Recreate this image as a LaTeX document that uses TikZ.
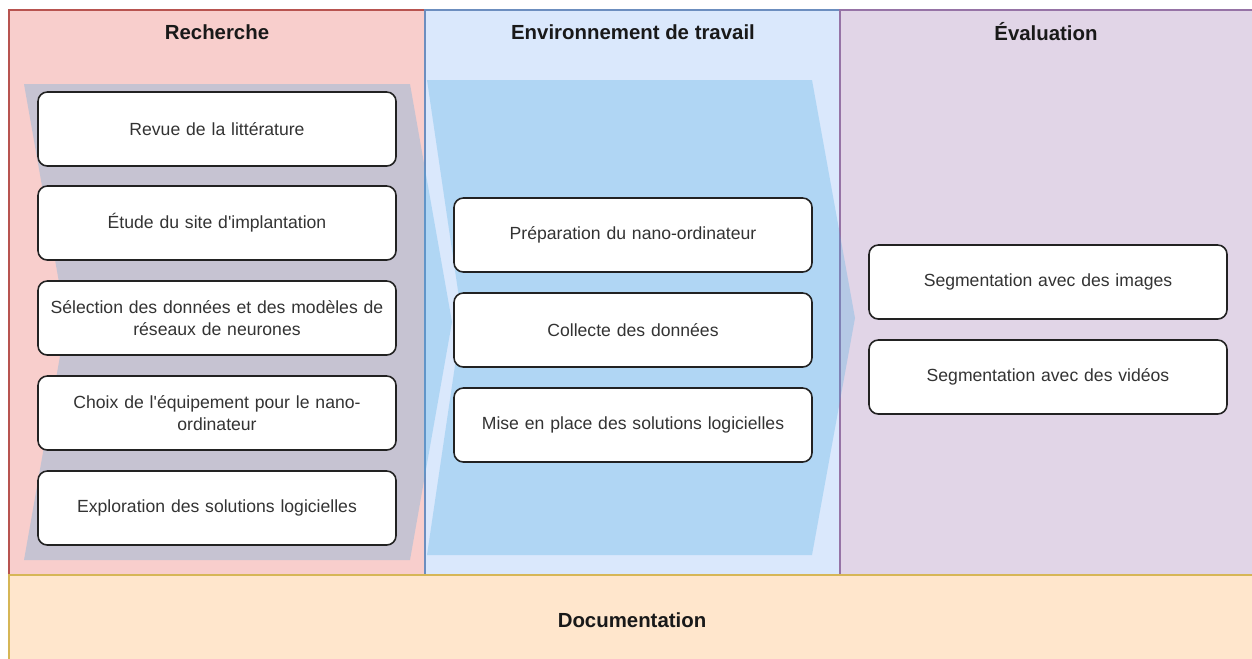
\documentclass[tikz,border=0pt]{standalone}
\usepackage{fontspec}
\setmainfont{Liberation Sans}[Ligatures=TeXOff]
\definecolor{pinkf}{HTML}{F8CECC}
\definecolor{pinkd}{HTML}{B85450}
\definecolor{bluef}{HTML}{DAE8FC}
\definecolor{blued}{HTML}{6C8EBF}
\definecolor{purpf}{HTML}{E1D5E7}
\definecolor{purpd}{HTML}{9673A6}
\definecolor{docf}{HTML}{FFE6CC}
\definecolor{docd}{HTML}{D6B656}
\definecolor{chevblue}{RGB}{70,170,226}
\definecolor{boxline}{HTML}{222222}
\definecolor{txt}{HTML}{333333}
\begin{document}
\begin{tikzpicture}[x=0.75pt,y=-0.75pt,
  lane/.style={line width=0.8pt},
  task/.style={draw=boxline, fill=white, rounded corners=7pt, line width=1.2pt,
    minimum width=268.5pt, minimum height=55.5pt, text width=262pt, align=center,
    font=\fontsize{13.2}{16.5}\selectfont, text=txt, inner sep=0pt},
  head/.style={font=\fontsize{15.3}{18}\selectfont\bfseries, text=black!90},
  chev/.style={fill=chevblue, fill opacity=0.28}]
\useasboundingbox (0,0) rectangle (1252,658);
\clip (0,0) rectangle (1252,658);
\fill[white] (0,0) rectangle (1252,658);
% lanes
\draw[lane, fill=pinkf, draw=pinkd] (9,10) rectangle (425,575);
\draw[lane, fill=bluef, draw=blued] (425,10) rectangle (840,575);
\draw[lane, fill=purpf, draw=purpd] (840,10) rectangle (1262,575);
\draw[lane, fill=docf, draw=docd] (9,575) rectangle (1262,672);
% headers
\node[head] (h1) at (217,32) {Recherche};
\node[head] (h2) at (633,32) {Environnement de travail};
\node[head] (h3) at (1046,32) {Évaluation};
\node[head] (h4) at (632,620) {Documentation};
% chevrons
\fill[chev] (24,84) -- (410,84) -- (452,322) -- (410,560) -- (24,560) -- (66,322) -- cycle;
\fill[chev] (427,80) -- (812,80) -- (855,318) -- (812,555) -- (427,555) -- (462,318) -- cycle;
% column 1
\node[task] (r1) at (217,129) {Revue de la littérature};
\node[task] (r2) at (217,223) {Étude du site d'implantation};
\node[task] (r3) at (217,318) {Sélection des données et des modèles de\\réseaux de neurones};
\node[task] (r4) at (217,413) {Choix de l'équipement pour le nano-\\ordinateur};
\node[task] (r5) at (217,508) {Exploration des solutions logicielles};
% column 2
\node[task] (e1) at (633,235) {Préparation du nano-ordinateur};
\node[task] (e2) at (633,330) {Collecte des données};
\node[task] (e3) at (633,425) {Mise en place des solutions logicielles};
% column 3
\node[task] (v1) at (1048,282) {Segmentation avec des images};
\node[task] (v2) at (1048,377) {Segmentation avec des vidéos};
\end{tikzpicture}
\end{document}
